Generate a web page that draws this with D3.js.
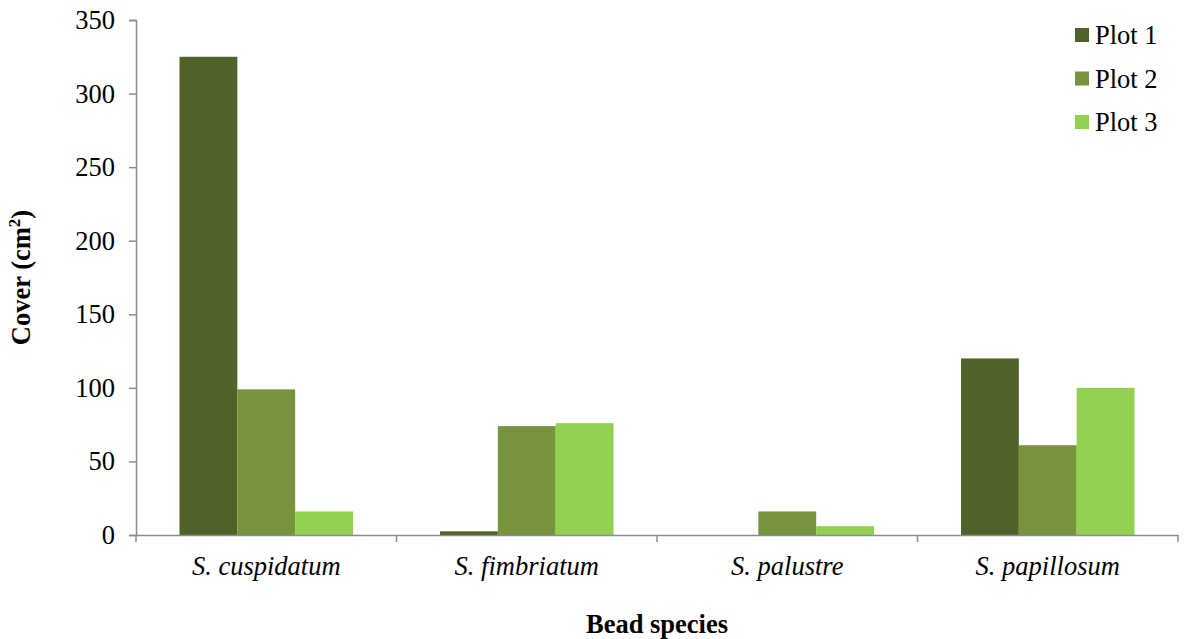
<!DOCTYPE html>
<html>
<head>
<meta charset="utf-8">
<script src="https://cdn.jsdelivr.net/npm/d3@7"></script>
<style>
  body { margin: 0; background: #fff; }
  svg text { font-family: "Liberation Serif", "Times New Roman", serif; fill: #000; }
</style>
</head>
<body>
<div id="chart"></div>
<script>
const species = ['S. cuspidatum', 'S. fimbriatum', 'S. palustre', 'S. papillosum']
const plots = ['Plot 1', 'Plot 2', 'Plot 3']
const plot1 = [325, 2.5, 0, 120]
const plot2 = [99, 74, 16, 61]
const plot3 = [16, 76, 6, 100]
const yTicks = [0, 50, 100, 150, 200, 250, 300, 350]
const colors = ['#4f6228', '#77933c', '#92d050']

const width = 1184
const height = 639
const margin = { top: 20, right: 6, bottom: 104, left: 136 }
const innerW = width - margin.left - margin.right
const innerH = height - margin.top - margin.bottom
const fontSize = '26.5px'

const series = [plot1, plot2, plot3]

const svg = d3.select('#chart')
    .append('svg')
    .attr('width', width)
    .attr('height', height)

const g = svg.append('g')
    .attr('transform', `translate(${margin.left}, ${margin.top})`)

const x = d3.scaleBand()
    .domain(species)
    .range([0, innerW])
    .padding(0)

// three bars side by side, ~43px free on each side of the group
const x1 = d3.scaleBand()
    .domain(plots)
    .range([43.5, x.bandwidth() - 43.5])
    .padding(0)

const y = d3.scaleLinear()
    .domain([0, 350])
    .range([innerH, 0])

// bars
species.forEach((sp, i) => {
    series.forEach((vals, j) => {
        g.append('rect')
            .attr('x', x(sp) + x1(plots[j]))
            .attr('y', y(vals[i]))
            .attr('width', x1.bandwidth())
            .attr('height', y(0) - y(vals[i]))
            .attr('fill', colors[j])
    })
})

// y axis
const yAxis = g.append('g')
    .call(d3.axisLeft(y).tickValues(yTicks).tickSizeOuter(0).tickSize(7).tickPadding(14))
yAxis.attr('font-family', null).attr('font-size', null)
yAxis.selectAll('path, line').attr('stroke', '#8c8c8c').attr('stroke-width', 1.5)
yAxis.selectAll('text').style('font-size', fontSize)

// x axis
const xAxis = g.append('g')
    .attr('transform', `translate(0, ${innerH})`)
    .call(d3.axisBottom(x).tickSize(0).tickSizeOuter(0).tickPadding(21))
xAxis.attr('font-family', null).attr('font-size', null)
xAxis.select('path').attr('stroke', '#8c8c8c').attr('stroke-width', 1.5)
xAxis.selectAll('text')
    .style('font-size', fontSize)
    .style('font-style', 'italic')

// category separators on the x axis
const bounds = d3.range(species.length + 1).map(i => i * x.step())
xAxis.selectAll('.sep')
    .data(bounds)
    .enter()
    .append('line')
    .attr('class', 'sep')
    .attr('x1', d => d)
    .attr('x2', d => d)
    .attr('y1', 0)
    .attr('y2', 7)
    .attr('stroke', '#8c8c8c')
    .attr('stroke-width', 1.5)

// axis titles
svg.append('text')
    .attr('x', margin.left + innerW / 2)
    .attr('y', 633)
    .attr('text-anchor', 'middle')
    .style('font-size', fontSize)
    .style('font-weight', 'bold')
    .text('Bead species')

const yTitle = svg.append('text')
    .attr('transform', `translate(30, ${margin.top + innerH / 2}) rotate(-90)`)
    .attr('text-anchor', 'middle')
    .style('font-size', fontSize)
    .style('font-weight', 'bold')
yTitle.append('tspan').text('Cover (cm')
yTitle.append('tspan').attr('dy', -10).style('font-size', '17px').text('2')
yTitle.append('tspan').attr('dy', 10).text(')')

// legend
const legend = svg.append('g')
    .attr('transform', 'translate(1075, 35)')

plots.forEach((p, j) => {
    const row = legend.append('g').attr('transform', `translate(0, ${j * 43.5})`)
    row.append('rect')
        .attr('x', 0)
        .attr('y', -7)
        .attr('width', 14)
        .attr('height', 14)
        .attr('fill', colors[j])
    row.append('text')
        .attr('x', 20)
        .attr('y', 0)
        .attr('dy', '0.35em')
        .style('font-size', fontSize)
        .text(p)
})
</script>
</body>
</html>
